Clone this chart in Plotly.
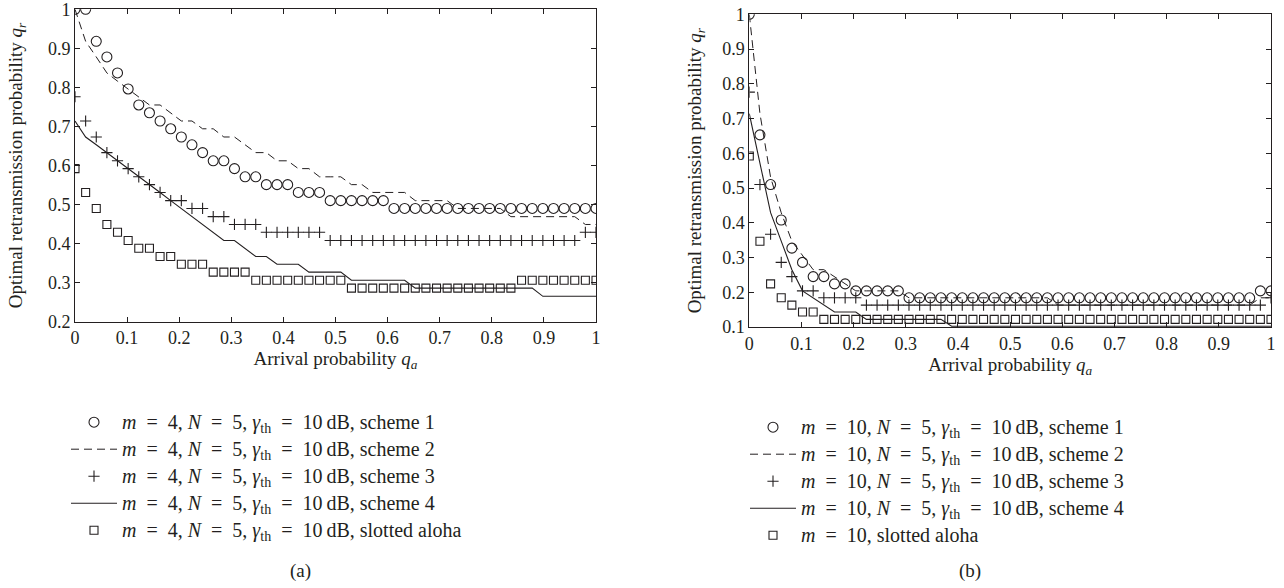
import plotly.graph_objects as go

# Arrival probability grid (x values)
qa = [0.0000, 0.0204, 0.0408, 0.0612, 0.0816, 0.1020, 0.1224, 0.1429, 0.1633, 0.1837,
      0.2041, 0.2245, 0.2449, 0.2653, 0.2857, 0.3061, 0.3265, 0.3469, 0.3673, 0.3878,
      0.4082, 0.4286, 0.4490, 0.4694, 0.4898, 0.5102, 0.5306, 0.5510, 0.5714, 0.5918,
      0.6122, 0.6327, 0.6531, 0.6735, 0.6939, 0.7143, 0.7347, 0.7551, 0.7755, 0.7959,
      0.8163, 0.8367, 0.8571, 0.8776, 0.8980, 0.9184, 0.9388, 0.9592, 0.9796, 1.0000]

# ---------- (a) m = 4 ----------
a_scheme1 = [1.000, 1.000, 0.918, 0.878, 0.837, 0.796, 0.755, 0.735, 0.714, 0.694,
             0.673, 0.653, 0.633, 0.612, 0.612, 0.592, 0.571, 0.571, 0.551, 0.551,
             0.551, 0.531, 0.531, 0.531, 0.510, 0.510, 0.510, 0.510, 0.510, 0.510,
             0.490, 0.490, 0.490, 0.490, 0.490, 0.490, 0.490, 0.490, 0.490, 0.490,
             0.490, 0.490, 0.490, 0.490, 0.490, 0.490, 0.490, 0.490, 0.490, 0.490]
a_scheme2 = [1.000, 0.918, 0.878, 0.837, 0.816, 0.796, 0.776, 0.755, 0.755, 0.735,
             0.714, 0.714, 0.694, 0.694, 0.673, 0.673, 0.653, 0.633, 0.633, 0.612,
             0.612, 0.592, 0.592, 0.571, 0.571, 0.571, 0.551, 0.551, 0.531, 0.531,
             0.531, 0.531, 0.510, 0.510, 0.510, 0.510, 0.490, 0.490, 0.490, 0.490,
             0.490, 0.469, 0.469, 0.469, 0.469, 0.469, 0.469, 0.469, 0.449, 0.449]
a_scheme3 = [0.776, 0.714, 0.673, 0.633, 0.612, 0.592, 0.571, 0.551, 0.531, 0.510,
             0.510, 0.490, 0.490, 0.469, 0.469, 0.449, 0.449, 0.449, 0.429, 0.429,
             0.429, 0.429, 0.429, 0.429, 0.408, 0.408, 0.408, 0.408, 0.408, 0.408,
             0.408, 0.408, 0.408, 0.408, 0.408, 0.408, 0.408, 0.408, 0.408, 0.408,
             0.408, 0.408, 0.408, 0.408, 0.408, 0.408, 0.408, 0.408, 0.429, 0.429]
a_scheme4 = [0.714, 0.673, 0.653, 0.633, 0.612, 0.592, 0.571, 0.551, 0.531, 0.510,
             0.490, 0.469, 0.449, 0.429, 0.408, 0.408, 0.388, 0.367, 0.367, 0.347,
             0.347, 0.347, 0.327, 0.327, 0.327, 0.327, 0.306, 0.306, 0.306, 0.306,
             0.306, 0.306, 0.286, 0.286, 0.286, 0.286, 0.286, 0.286, 0.286, 0.286,
             0.286, 0.286, 0.286, 0.286, 0.265, 0.265, 0.265, 0.265, 0.265, 0.265]
a_aloha = [0.592, 0.531, 0.490, 0.449, 0.429, 0.408, 0.388, 0.388, 0.367, 0.367,
           0.347, 0.347, 0.347, 0.327, 0.327, 0.327, 0.327, 0.306, 0.306, 0.306,
           0.306, 0.306, 0.306, 0.306, 0.306, 0.306, 0.286, 0.286, 0.286, 0.286,
           0.286, 0.286, 0.286, 0.286, 0.286, 0.286, 0.286, 0.286, 0.286, 0.286,
           0.286, 0.286, 0.306, 0.306, 0.306, 0.306, 0.306, 0.306, 0.306, 0.306]

# ---------- (b) m = 10 ----------
b_scheme1 = [1.000, 0.653, 0.510, 0.408, 0.327, 0.286, 0.245, 0.245, 0.224, 0.224,
             0.204, 0.204, 0.204, 0.204, 0.204, 0.184, 0.184, 0.184, 0.184, 0.184,
             0.184, 0.184, 0.184, 0.184, 0.184, 0.184, 0.184, 0.184, 0.184, 0.184,
             0.184, 0.184, 0.184, 0.184, 0.184, 0.184, 0.184, 0.184, 0.184, 0.184,
             0.184, 0.184, 0.184, 0.184, 0.184, 0.184, 0.184, 0.184, 0.204, 0.204]
b_scheme2 = [1.000, 0.714, 0.531, 0.429, 0.347, 0.306, 0.265, 0.265, 0.245, 0.224,
             0.204, 0.204, 0.204, 0.204, 0.204, 0.184, 0.184, 0.184, 0.184, 0.184,
             0.184, 0.184, 0.184, 0.184, 0.184, 0.184, 0.184, 0.184, 0.184, 0.163,
             0.163, 0.163, 0.163, 0.163, 0.163, 0.163, 0.163, 0.163, 0.163, 0.163,
             0.163, 0.163, 0.163, 0.163, 0.163, 0.163, 0.163, 0.163, 0.184, 0.184]
b_scheme3 = [0.776, 0.510, 0.367, 0.286, 0.245, 0.204, 0.204, 0.184, 0.184, 0.184,
             0.184, 0.163, 0.163, 0.163, 0.163, 0.163, 0.163, 0.163, 0.163, 0.163,
             0.163, 0.163, 0.163, 0.163, 0.163, 0.163, 0.163, 0.163, 0.163, 0.163,
             0.163, 0.163, 0.163, 0.163, 0.163, 0.163, 0.163, 0.163, 0.163, 0.163,
             0.163, 0.163, 0.163, 0.163, 0.163, 0.163, 0.163, 0.163, 0.163, 0.184]
b_scheme4 = [0.714, 0.571, 0.429, 0.347, 0.265, 0.204, 0.184, 0.163, 0.143, 0.143,
             0.143, 0.122, 0.122, 0.122, 0.122, 0.122, 0.122, 0.122, 0.122, 0.102,
             0.102, 0.102, 0.102, 0.102, 0.102, 0.102, 0.102, 0.102, 0.102, 0.102,
             0.102, 0.102, 0.102, 0.102, 0.102, 0.102, 0.102, 0.102, 0.102, 0.102,
             0.102, 0.102, 0.102, 0.102, 0.102, 0.102, 0.102, 0.102, 0.102, 0.102]
b_aloha = [0.592, 0.347, 0.224, 0.184, 0.163, 0.143, 0.143, 0.122, 0.122, 0.122,
           0.122, 0.122, 0.122, 0.122, 0.122, 0.122, 0.122, 0.122, 0.122, 0.122,
           0.122, 0.122, 0.122, 0.122, 0.122, 0.122, 0.122, 0.122, 0.122, 0.122,
           0.122, 0.122, 0.122, 0.122, 0.122, 0.122, 0.122, 0.122, 0.122, 0.122,
           0.122, 0.122, 0.122, 0.122, 0.122, 0.122, 0.122, 0.122, 0.122, 0.122]

tick_vals_x = [0, 0.1, 0.2, 0.3, 0.4, 0.5, 0.6, 0.7, 0.8, 0.9, 1]
tick_text_x = ["0", "0.1", "0.2", "0.3", "0.4", "0.5", "0.6", "0.7", "0.8", "0.9", "1"]
tick_vals_ya = [0.2, 0.3, 0.4, 0.5, 0.6, 0.7, 0.8, 0.9, 1]
tick_text_ya = ["0.2", "0.3", "0.4", "0.5", "0.6", "0.7", "0.8", "0.9", "1"]
tick_vals_yb = [0.1, 0.2, 0.3, 0.4, 0.5, 0.6, 0.7, 0.8, 0.9, 1]
tick_text_yb = ["0.1", "0.2", "0.3", "0.4", "0.5", "0.6", "0.7", "0.8", "0.9", "1"]

EQ = "\u2002=\u2002"
lab_a = "<i>m</i>" + EQ + "4, <i>N</i>" + EQ + "5, <i>γ</i><sub>th</sub>" + EQ + "10\u2009dB, "
lab_b = "<i>m</i>" + EQ + "10, <i>N</i>" + EQ + "5, <i>γ</i><sub>th</sub>" + EQ + "10\u2009dB, "
names_a = [lab_a + "scheme 1", lab_a + "scheme 2", lab_a + "scheme 3", lab_a + "scheme 4",
           lab_a + "slotted aloha"]
names_b = [lab_b + "scheme 1", lab_b + "scheme 2", lab_b + "scheme 3", lab_b + "scheme 4",
           "<i>m</i>" + EQ + "10, slotted aloha"]


def big(s):
    return '<span style="font-size:20px">' + s + "</span>"


INK = "#231F20"
FONT = "Liberation Serif"

W, H = 1284, 588
fig = go.Figure()


def add_set(xa, ya, vals, names, legend):
    s1, s2, s3, s4, al = vals
    fig.add_trace(go.Scatter(x=qa, y=s1, mode="markers", name=big(names[0]), xaxis=xa, yaxis=ya,
                             legend=legend, legendgroup=legend + "1",
                             marker=dict(symbol="circle-open", size=10, color=INK,
                                         line=dict(width=1.1, color=INK))))
    fig.add_trace(go.Scatter(x=qa, y=s2, mode="lines", name=big(names[1]), xaxis=xa, yaxis=ya,
                             legend=legend, legendgroup=legend + "2",
                             line=dict(color=INK, width=1, dash="8px,5px")))
    fig.add_trace(go.Scatter(x=qa, y=s3, mode="markers", name=big(names[2]), xaxis=xa, yaxis=ya,
                             legend=legend, legendgroup=legend + "3",
                             marker=dict(symbol="cross-thin-open", size=8, color=INK,
                                         line=dict(width=1.1, color=INK))))
    fig.add_trace(go.Scatter(x=qa, y=s4, mode="lines", name=big(names[3]), xaxis=xa, yaxis=ya,
                             legend=legend, legendgroup=legend + "4",
                             line=dict(color=INK, width=1.1)))
    fig.add_trace(go.Scatter(x=qa, y=al, mode="markers", name=big(names[4]), xaxis=xa, yaxis=ya,
                             legend=legend, legendgroup=legend + "5",
                             marker=dict(symbol="square-open", size=8, color=INK,
                                         line=dict(width=1.1, color=INK))))


add_set("x", "y", [a_scheme1, a_scheme2, a_scheme3, a_scheme4, a_aloha], names_a, "legend")
add_set("x2", "y2", [b_scheme1, b_scheme2, b_scheme3, b_scheme4, b_aloha], names_b, "legend2")

axis_common = dict(showline=True, linecolor=INK, linewidth=1, mirror="ticks", ticks="inside",
                   ticklen=5, tickcolor=INK, showgrid=False, zeroline=False, automargin=False,
                   ticklabeloverflow="allow",
                   tickfont=dict(family=FONT, size=18, color=INK))

title_font = dict(family=FONT, size=19, color=INK)
xtitle = "Arrival probability <i>q<sub>a</sub></i>"
ytitle = "Optimal retransmission probability <i>q<sub>r</sub></i>"

legend_common = dict(xanchor="left", yanchor="top", font=dict(family=FONT, size=18, color=INK),
                     tracegroupgap=0.6, bgcolor="rgba(0,0,0,0)", itemwidth=46,
                     traceorder="grouped")

fig.update_layout(
    width=W, height=H, margin=dict(l=0, r=0, t=0, b=0, autoexpand=False),
    paper_bgcolor="white", plot_bgcolor="white",
    xaxis=dict(domain=[75 / W, 596 / W], range=[0, 1], anchor="y",
               tickvals=tick_vals_x, ticktext=tick_text_x,
               title=dict(text=xtitle, font=title_font, standoff=2), **axis_common),
    yaxis=dict(domain=[1 - 321.7 / H, 1 - 9.3 / H], range=[0.2, 1], anchor="x",
               tickvals=tick_vals_ya, ticktext=tick_text_ya,
               title=dict(text=ytitle, font=title_font, standoff=20), **axis_common),
    xaxis2=dict(domain=[749.3 / W, 1271 / W], range=[0, 1], anchor="y2",
                tickvals=tick_vals_x, ticktext=tick_text_x,
                title=dict(text=xtitle, font=title_font, standoff=2), **axis_common),
    yaxis2=dict(domain=[1 - 327 / H, 1 - 14.3 / H], range=[0.1, 1], anchor="x2",
                tickvals=tick_vals_yb, ticktext=tick_text_yb,
                title=dict(text=ytitle, font=title_font, standoff=15), **axis_common),
    legend=dict(x=66 / W, y=1 - 404 / H, **legend_common),
    legend2=dict(x=745 / W, y=1 - 409 / H, **legend_common),
    annotations=[
        dict(text="(a)", x=300 / W, y=1 - 571 / H, xref="paper", yref="paper",
             xanchor="center", yanchor="middle",
             showarrow=False, font=dict(family=FONT, size=19, color=INK)),
        dict(text="(b)", x=970 / W, y=1 - 571 / H, xref="paper", yref="paper",
             xanchor="center", yanchor="middle",
             showarrow=False, font=dict(family=FONT, size=19, color=INK)),
    ],
)

fig.write_html("out.html", config={"displayModeBar": False},
               post_script="document.body.style.margin='0';document.body.style.overflow='hidden';")
